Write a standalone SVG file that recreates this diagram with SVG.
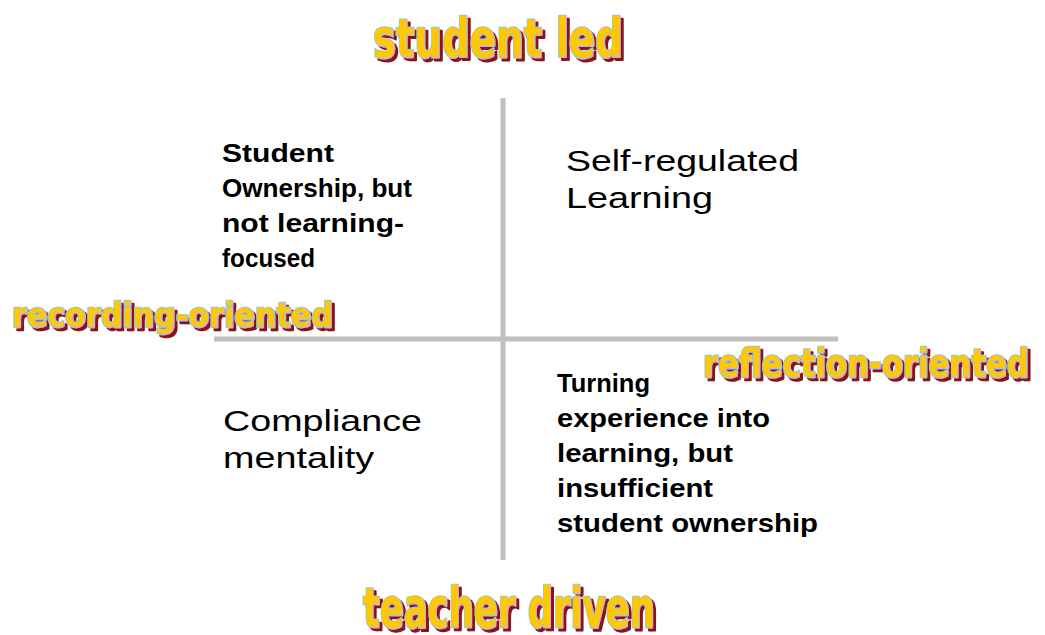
<svg xmlns="http://www.w3.org/2000/svg" width="1045" height="635" viewBox="0 0 1045 635">
  <defs>
    <!-- dark red drop shadow behind the word-art labels -->
    <filter id="art-shadow" x="-5%" y="-25%" width="115%" height="160%">
      <feOffset in="SourceAlpha" dx="3" dy="3" result="off"/>
      <feFlood flood-color="#9a0f14"/>
      <feComposite in2="off" operator="in" result="shadow"/>
      <feMerge>
        <feMergeNode in="shadow"/>
        <feMergeNode in="SourceGraphic"/>
      </feMerge>
    </filter>
  </defs>
  <style>
    .axis { stroke: #c0c0c0; stroke-width: 5; fill: none; }
    .body { font-family: "Liberation Sans", Arial, sans-serif; fill: #000; }
    .bold { font-weight: bold; font-size: 26px; }
    .reg { font-size: 30px; }
    .art { font-family: "Liberation Sans Narrow", "DejaVu Sans Condensed", "Roboto Condensed", sans-serif; font-weight: bold;
           fill: #ffc800; stroke: #9cc3ea; stroke-width: 2.5; stroke-linejoin: round; paint-order: stroke; filter: url(#art-shadow); }
  </style>
  <rect width="1045" height="635" fill="#ffffff"/>

  <!-- quadrant axes -->
  <g id="axes">
    <line class="axis" x1="503" y1="98" x2="503" y2="560"/>
    <line class="axis" x1="214" y1="339" x2="838" y2="339"/>
  </g>

  <!-- axis labels -->
  <g id="label-student-led">
    <text class="art" x="373" y="57" font-size="54" textLength="250" lengthAdjust="spacingAndGlyphs">student led</text>
  </g>
  <g id="label-recording-oriented">
    <text class="art" x="12" y="327" font-size="34" textLength="321" lengthAdjust="spacingAndGlyphs">recording-oriented</text>
  </g>
  <g id="label-reflection-oriented">
    <text class="art" x="703" y="377" font-size="39" textLength="326" lengthAdjust="spacingAndGlyphs">reflection-oriented</text>
  </g>
  <g id="label-teacher-driven">
    <text class="art" x="363" y="627" font-size="55" textLength="292" lengthAdjust="spacingAndGlyphs">teacher driven</text>
  </g>

  <!-- quadrant texts -->
  <g id="quadrant-top-left" class="body bold">
    <text x="222" y="162" textLength="112" lengthAdjust="spacingAndGlyphs">Student</text>
    <text x="222" y="197" textLength="190" lengthAdjust="spacingAndGlyphs">Ownership, but</text>
    <text x="222" y="232" textLength="182" lengthAdjust="spacingAndGlyphs">not learning-</text>
    <text x="222" y="267" textLength="93" lengthAdjust="spacingAndGlyphs">focused</text>
  </g>
  <g id="quadrant-top-right" class="body reg">
    <text x="566" y="171" textLength="233" lengthAdjust="spacingAndGlyphs">Self-regulated</text>
    <text x="566" y="208" textLength="147" lengthAdjust="spacingAndGlyphs">Learning</text>
  </g>
  <g id="quadrant-bottom-left" class="body reg">
    <text x="223" y="431" textLength="199" lengthAdjust="spacingAndGlyphs">Compliance</text>
    <text x="223" y="468" textLength="151" lengthAdjust="spacingAndGlyphs">mentality</text>
  </g>
  <g id="quadrant-bottom-right" class="body bold">
    <text x="557" y="392" textLength="93" lengthAdjust="spacingAndGlyphs">Turning</text>
    <text x="557" y="427" textLength="213" lengthAdjust="spacingAndGlyphs">experience into</text>
    <text x="557" y="462" textLength="176" lengthAdjust="spacingAndGlyphs">learning, but</text>
    <text x="557" y="497" textLength="156" lengthAdjust="spacingAndGlyphs">insufficient</text>
    <text x="557" y="532" textLength="261" lengthAdjust="spacingAndGlyphs">student ownership</text>
  </g>
</svg>
